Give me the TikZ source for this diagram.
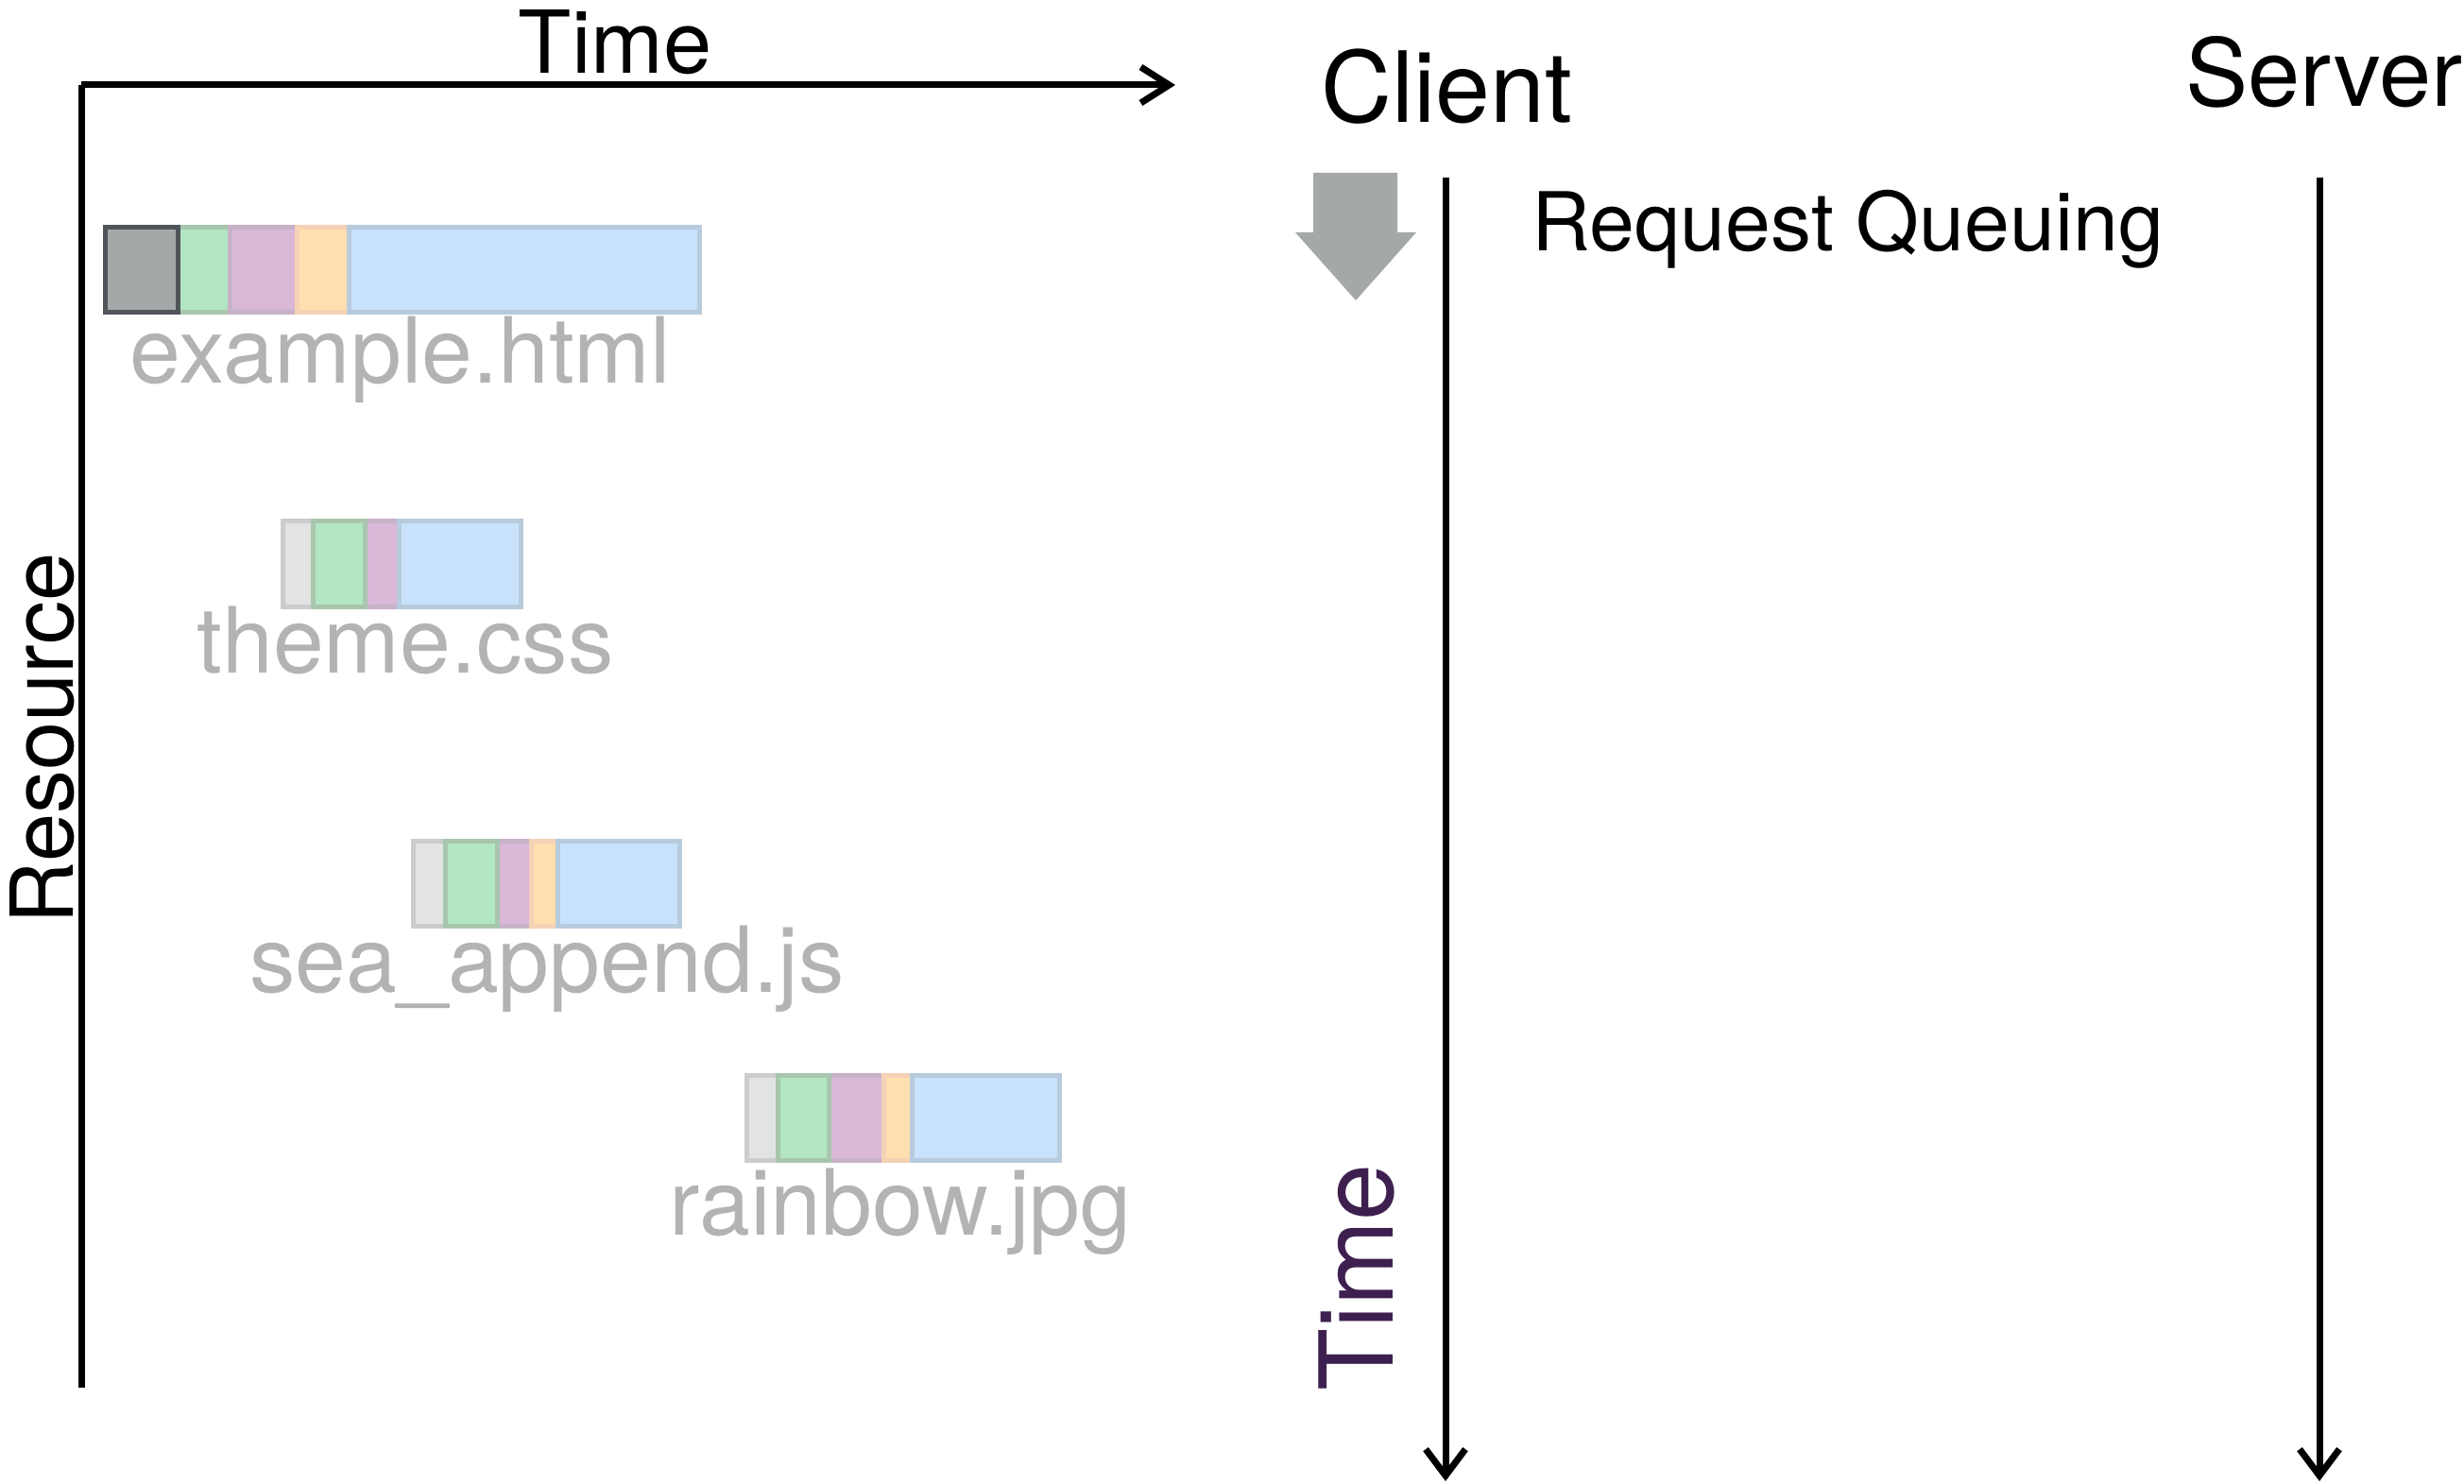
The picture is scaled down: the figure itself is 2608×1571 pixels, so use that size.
\documentclass[tikz,border=0pt]{standalone}
\usepackage{fontspec}
\setmainfont{TeX Gyre Heros}
\usetikzlibrary{arrows.meta}

\definecolor{waitfill}{RGB}{165,168,168}
\definecolor{waitline}{RGB}{80,85,91}
\definecolor{stallfill}{RGB}{226,227,227}
\definecolor{stallline}{RGB}{203,204,204}
\definecolor{dnsfill}{RGB}{179,230,194}
\definecolor{dnsline}{RGB}{168,198,174}
\definecolor{tcpfill}{RGB}{217,184,216}
\definecolor{tcpline}{RGB}{199,178,200}
\definecolor{sslfill}{RGB}{255,223,176}
\definecolor{sslline}{RGB}{245,210,181}
\definecolor{recvfill}{RGB}{200,226,252}
\definecolor{recvline}{RGB}{184,203,221}
\definecolor{filegray}{RGB}{179,179,179}
\definecolor{timepurple}{RGB}{62,32,80}

\tikzset{every picture/.style={line width=1.75pt}}
\tikzset{
  seg/.style={line width=1.25pt},
  waitseg/.style={seg, draw=waitline, fill=waitfill},
  stallseg/.style={seg, draw=stallline, fill=stallfill},
  dnsseg/.style={seg, draw=dnsline, fill=dnsfill},
  tcpseg/.style={seg, draw=tcpline, fill=tcpfill},
  sslseg/.style={seg, draw=sslline, fill=sslfill},
  recvseg/.style={seg, draw=recvline, fill=recvfill},
  filename/.style={text=filegray, font=\fontsize{24.2pt}{29pt}\selectfont, inner sep=0pt},
  axislabel/.style={font=\fontsize{23pt}{28pt}\selectfont, inner sep=0pt},
  partylabel/.style={font=\fontsize{26pt}{31pt}\selectfont, inner sep=0pt},
  timeline/.style={-{Straight Barb[length=7pt,width=10.5pt]}},
}

\begin{document}
\begin{tikzpicture}[x=0.25pt,y=0.25pt,yscale=-1,xscale=1]
	\useasboundingbox (0,0) rectangle (2608,1571);

	% axes of the waterfall
	\coordinate (origin) at (86,90);
	\coordinate (timeend) at (1244,90);
	\coordinate (resend) at (86,1469);
	\draw [-{Straight Barb[length=7.5pt,width=9.5pt]}] (origin) -- (timeend);
	\draw (origin) -- (resend);

	% Text Node
	\node (timetop) [axislabel, anchor=base] at (651,78) {Time};
	% Text Node
	\node (restitle) [axislabel, rotate=90, anchor=base] at (78,782) {Resource};

	%Shape: Rectangle -- example.html
	\draw [dnsseg] (188,241) rectangle (243,331);
	\draw [tcpseg] (243,241) rectangle (314,331);
	\draw [sslseg] (314,241) rectangle (369,331);
	\draw [recvseg] (369,241) rectangle (740,331);
	\draw [waitseg] (111,241) rectangle (188,331);
	% Text Node
	\node (html) [filename, anchor=base] at (424,406) {example.html};

	%Shape: Rectangle -- theme.css
	\draw [stallseg] (299,552) rectangle (331,642);
	\draw [tcpseg] (386,552) rectangle (422,642);
	\draw [dnsseg] (331,552) rectangle (386,642);
	\draw [recvseg] (422,552) rectangle (551,642);
	% Text Node
	\node (css) [filename, anchor=base] at (429,712) {theme.css};

	%Shape: Rectangle -- sea_append.js
	\draw [stallseg] (437,890) rectangle (471,980);
	\draw [tcpseg] (526,890) rectangle (562,980);
	\draw [dnsseg] (471,890) rectangle (526,980);
	\draw [sslseg] (562,890) rectangle (590,980);
	\draw [recvseg] (590,890) rectangle (719,980);
	% Text Node
	\node (js) [filename, anchor=base] at (579,1050) {sea\_append.js};

	%Shape: Rectangle -- rainbow.jpg
	\draw [stallseg] (790,1138) rectangle (823,1228);
	\draw [tcpseg] (877,1138) rectangle (935,1228);
	\draw [dnsseg] (823,1138) rectangle (877,1228);
	\draw [sslseg] (935,1138) rectangle (965,1228);
	\draw [recvseg] (965,1138) rectangle (1121,1228);
	% Text Node
	\node (jpg) [filename, anchor=base] at (953,1307) {rainbow.jpg};

	% client and server
	\node (client) [partylabel, anchor=base] at (1531,130) {Client};
	\node (server) [partylabel, font=\fontsize{24.8pt}{30pt}\selectfont, anchor=base west] at (2310,113) {Server};
	\coordinate (clienttop) at (1530,188);
	\coordinate (clientend) at (1530,1568);
	\coordinate (servertop) at (2455,188);
	\coordinate (serverend) at (2455,1568);
	\draw [timeline] (clienttop) -- (clientend);
	\draw [timeline] (servertop) -- (serverend);

	%Shape: Down Arrow
	\fill [waitfill] (1390,183) -- (1479,183) -- (1479,246) -- (1499,246) -- (1435,318) -- (1371,246) -- (1390,246) -- cycle;
	% Text Node
	\node (queue) [font=\fontsize{21.5pt}{26pt}\selectfont, inner sep=0pt, anchor=base west] at (1618,266) {Request Queuing};
	% Text Node
	\node (timeside) [font=\fontsize{27pt}{32pt}\selectfont, text=timepurple, inner sep=0pt, rotate=90, anchor=base] at (1474,1352) {Time};

\end{tikzpicture}
\end{document}
